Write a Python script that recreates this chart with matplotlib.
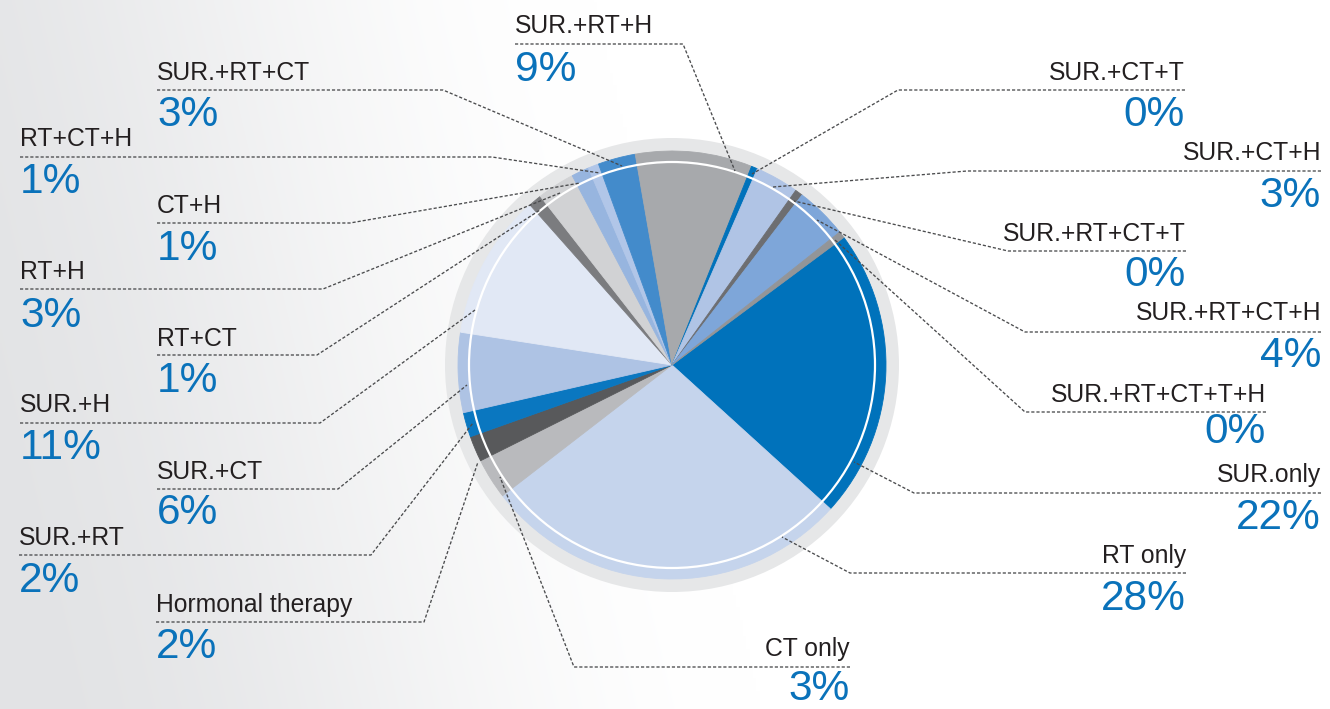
import numpy as np
import matplotlib
matplotlib.use("Agg")
import matplotlib.pyplot as plt
from matplotlib.patches import Circle

plt.rcParams['font.family'] = ['Liberation Sans', 'DejaVu Sans']

# ---------------- data ----------------
categories = ["SUR.only", "RT only", "CT only", "Hormonal therapy", "SUR.+RT", "SUR.+CT",
              "SUR.+H", "RT+CT", "RT+H", "CT+H", "RT+CT+H", "SUR.+RT+CT", "SUR.+RT+H",
              "SUR.+CT+T", "SUR.+CT+H", "SUR.+RT+CT+T", "SUR.+RT+CT+H", "SUR.+RT+CT+T+H"]
shares = [21.9, 27.8, 3.08, 1.94, 1.86, 6.03,
          11.0, 1.0, 2.83, 1.33, 0.81, 2.83, 8.81,
          0.47, 3.28, 0.58, 3.94, 0.5]
pct_labels = ["22%", "28%", "3%", "2%", "2%", "6%",
              "11%", "1%", "3%", "1%", "1%", "3%", "9%",
              "0%", "3%", "0%", "4%", "0%"]

colors = ["#0072bb", "#c5d4ec", "#b9babd", "#58595b", "#0a77c0", "#aec3e4",
          "#e1e8f5", "#7b7c7f", "#d1d2d4", "#97b5df", "#b1c6e8", "#438bcb", "#a7a9ac",
          "#0072bb", "#b0c4e5", "#6d6e71", "#7ea6d9", "#939598"]

# label layout in pixel coords (y downward):
# ha, text x, label baseline, underline y, percent baseline, corner (x, y), end (x, y)
layout = {
    "SUR.+RT+H":        ("left", 515, 33, 44, 81, (683, 44), (735, 171)),
    "SUR.+RT+CT":       ("left", 157, 80, 90, 126, (443, 90), (622, 166)),
    "RT+CT+H":          ("left", 20, 146, 157, 193, (492, 157), (600, 173)),
    "CT+H":             ("left", 157, 213, 223, 260, (350, 223), (580, 183)),
    "RT+H":             ("left", 20, 279, 289, 327, (323, 289), (560, 193)),
    "RT+CT":            ("left", 157, 346, 355, 392, (317, 355), (540, 210)),
    "SUR.+H":           ("left", 20, 412, 423, 459, (320, 423), (475, 310)),
    "SUR.+CT":          ("left", 157, 479, 489, 524, (338, 489), (467, 385)),
    "SUR.+RT":          ("left", 19, 545, 555, 592, (371, 555), (473, 423)),
    "Hormonal therapy": ("left", 156, 612, 622, 658, (424, 622), (478, 462)),
    "SUR.+CT+T":        ("right", 1185, 80, 90, 126, (898, 90), (752, 174)),
    "SUR.+CT+H":        ("right", 1321, 160, 171, 207, (967, 171), (773, 187)),
    "SUR.+RT+CT+T":     ("right", 1186, 241, 251, 286, (1008, 251), (794, 201)),
    "SUR.+RT+CT+H":     ("right", 1321, 320, 332, 367, (1025, 332), (817, 220)),
    "SUR.+RT+CT+T+H":   ("right", 1266, 402, 412, 443, (1025, 412), (835, 240)),
    "SUR.only":         ("right", 1321, 482, 493, 529, (914, 493), (854, 462)),
    "RT only":          ("right", 1186, 563, 573, 610, (850, 573), (782, 537)),
    "CT only":          ("right", 850, 656, 667, 700, (574, 667), (500, 477)),
}

# ---------------- figure ----------------
W, H = 1330, 709
fig = plt.figure(figsize=(13.3, 7.09), dpi=100)
ax = fig.add_axes([0, 0, 1, 1])


def Y(y):
    return H - y


# background gradient (grey at left/bottom-left, white to the right)
xx = np.linspace(0, 1, 400)
yy = np.linspace(0, 1, 220)
XX, YY = np.meshgrid(xx, yy)
t = np.clip(XX * W / 760 + YY * 0.22, 0, 1)
t = t * t * (3 - 2 * t)
c0 = np.array([226, 227, 229]) / 255.0
img = c0[None, None, :] * (1 - t[..., None]) + t[..., None]
ax.imshow(img, extent=[0, W, 0, H], origin='lower', aspect='auto',
          zorder=0, interpolation='bilinear')

cx, cy = 672, Y(365)
ax.add_patch(Circle((cx, cy), 227, facecolor='#e6e7e8', edgecolor='none', zorder=1))

wedges, _ = ax.pie(shares, colors=colors, startangle=36.6, counterclock=False,
                   radius=214, center=(cx, cy), frame=True,
                   wedgeprops=dict(linewidth=0.6))
for w in wedges:
    w.set_edgecolor(w.get_facecolor())
    w.set_zorder(2)

ax.add_patch(Circle((cx, cy), 203, fill=False, edgecolor='white', linewidth=1.6, zorder=3))

# labels and leader lines
for cat, pct in zip(categories, pct_labels):
    ha, tx, lb, ly, pb, corner, end = layout[cat]
    xs = [tx, corner[0], end[0]]
    ys = [Y(ly), Y(corner[1]), Y(end[1])]
    ax.plot(xs, ys, color='#4a4b4d', linewidth=0.95, linestyle=(0, (2.4, 1.5)),
            zorder=4, solid_capstyle='butt')
    ax.text(tx, Y(lb), cat, ha=ha, va='baseline', fontsize=17.8, color='#231f20', zorder=5)
    ax.text(tx, Y(pb), pct, ha=ha, va='baseline', fontsize=30.5, color='#0a72ba', zorder=5)

ax.set_xlim(0, W)
ax.set_ylim(0, H)
ax.set_aspect('auto')
ax.axis('off')

fig.savefig("out.png", dpi=100)
